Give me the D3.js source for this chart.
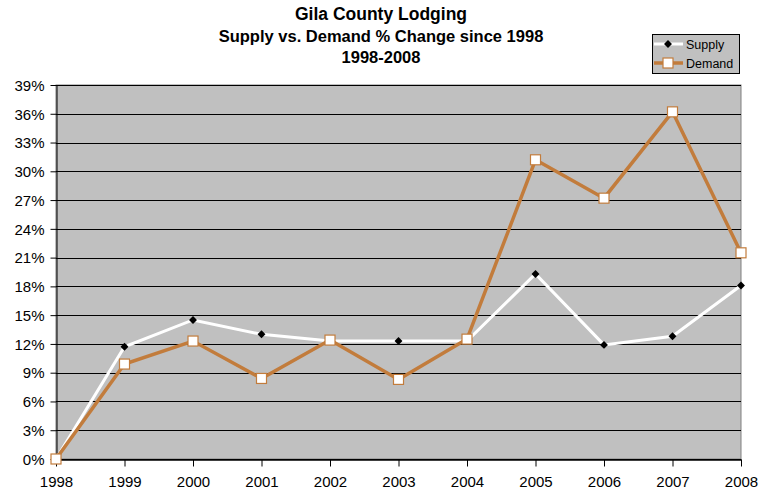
<!DOCTYPE html>
<html>
<head>
<meta charset="utf-8">
<script src="https://cdn.jsdelivr.net/npm/d3@7"></script>
<style>
  body { margin: 0; background: #fff; }
  text { font-family: "Liberation Sans", Arial, sans-serif; fill: #000; }
</style>
</head>
<body>
<div id="chart"></div>
<script>
// chart data
var years = [1998, 1999, 2000, 2001, 2002, 2003, 2004, 2005, 2006, 2007, 2008];
var supply = [0, 11.7, 14.5, 13.0, 12.3, 12.3, 12.3, 19.3, 11.9, 12.8, 18.1];
var demand = [0, 9.9, 12.3, 8.4, 12.4, 8.3, 12.5, 31.2, 27.2, 36.2, 21.5];
var yTicks = [0, 3, 6, 9, 12, 15, 18, 21, 24, 27, 30, 33, 36, 39];
var titleLines = ["Gila County Lodging", "Supply vs. Demand % Change since 1998", "1998-2008"];

var width = 772, height = 494;
var margin = { top: 85, right: 31, bottom: 35, left: 56 };
var demandColor = "#C27C3C";

var svg = d3.select("#chart").append("svg")
    .attr("width", width)
    .attr("height", height);

var x = d3.scalePoint()
    .domain(years)
    .range([margin.left, width - margin.right]);

var y = d3.scaleLinear()
    .domain([0, 39])
    .range([height - margin.bottom, margin.top]);

// plot background
svg.append("rect")
    .attr("x", margin.left)
    .attr("y", margin.top)
    .attr("width", width - margin.right - margin.left)
    .attr("height", height - margin.bottom - margin.top)
    .attr("fill", "#C0C0C0")
    .attr("stroke", "#808080");

// gridlines
svg.append("g")
    .selectAll("line")
    .data(yTicks)
    .enter()
    .append("line")
    .attr("x1", margin.left)
    .attr("x2", width - margin.right)
    .attr("y1", (d) => Math.round(y(d)) + 0.5)
    .attr("y2", (d) => Math.round(y(d)) + 0.5)
    .attr("stroke", "#000")
    .attr("stroke-width", 1);

// y axis
var yAxis = svg.append("g")
    .attr("transform", "translate(" + (margin.left + 0.5) + ",0)")
    .call(d3.axisLeft(y).tickValues(yTicks).tickFormat((d) => d + "%").tickSize(6).tickSizeOuter(0));
yAxis.select(".domain").attr("stroke", "#000");
yAxis.selectAll("text").style("font-size", "15px").attr("x", -12).attr("dy", "0.35em");

// x axis
var xAxis = svg.append("g")
    .attr("transform", "translate(0," + (height - margin.bottom + 0.5) + ")")
    .call(d3.axisBottom(x).tickSize(7).tickSizeOuter(0));
xAxis.select(".domain").attr("stroke", "#000").attr("stroke-width", 1.5);
xAxis.selectAll("text").style("font-size", "15px").attr("y", 17).attr("dy", "0.71em");

var line = d3.line()
    .x((d, i) => x(years[i]))
    .y((d) => y(d));

// supply series
svg.append("path")
    .datum(supply)
    .attr("fill", "none")
    .attr("stroke", "#fff")
    .attr("stroke-width", 3)
    .attr("d", line);

svg.append("g")
    .selectAll("path")
    .data(supply)
    .enter()
    .append("path")
    .attr("d", d3.symbol().type(d3.symbolDiamond2).size(40))
    .attr("transform", (d, i) => "translate(" + x(years[i]) + "," + y(d) + ")")
    .attr("fill", "#000");

// demand series
svg.append("path")
    .datum(demand)
    .attr("fill", "none")
    .attr("stroke", demandColor)
    .attr("stroke-width", 3.5)
    .attr("d", line);

svg.append("g")
    .selectAll("rect")
    .data(demand)
    .enter()
    .append("rect")
    .attr("x", (d, i) => x(years[i]) - 5)
    .attr("y", (d) => y(d) - 5)
    .attr("width", 10)
    .attr("height", 10)
    .attr("fill", "#fff")
    .attr("stroke", demandColor)
    .attr("stroke-width", 1.2);

// title
svg.append("g")
    .selectAll("text")
    .data(titleLines)
    .enter()
    .append("text")
    .attr("x", 381)
    .attr("y", (d, i) => [20, 42, 63][i])
    .attr("text-anchor", "middle")
    .style("font-weight", "bold")
    .style("font-size", (d, i) => i == 0 ? "17.5px" : "16.5px")
    .text((d) => d);

// legend
var legend = svg.append("g").attr("transform", "translate(652,34)");
legend.append("rect")
    .attr("x", 0.5)
    .attr("y", 0.5)
    .attr("width", 87)
    .attr("height", 39)
    .attr("fill", "#C0C0C0")
    .attr("stroke", "#000");

legend.append("line")
    .attr("x1", 2).attr("x2", 31).attr("y1", 10).attr("y2", 10)
    .attr("stroke", "#fff").attr("stroke-width", 3);
legend.append("path")
    .attr("d", d3.symbol().type(d3.symbolDiamond2).size(40))
    .attr("transform", "translate(16,10)")
    .attr("fill", "#000");
legend.append("text")
    .attr("x", 34).attr("y", 14.5)
    .style("font-size", "12.5px")
    .text("Supply");

legend.append("line")
    .attr("x1", 2).attr("x2", 31).attr("y1", 29).attr("y2", 29)
    .attr("stroke", demandColor).attr("stroke-width", 3.5);
legend.append("rect")
    .attr("x", 11).attr("y", 24).attr("width", 10).attr("height", 10)
    .attr("fill", "#fff").attr("stroke", demandColor).attr("stroke-width", 1.2);
legend.append("text")
    .attr("x", 34).attr("y", 33.5)
    .style("font-size", "12.5px")
    .text("Demand");
</script>
</body>
</html>
